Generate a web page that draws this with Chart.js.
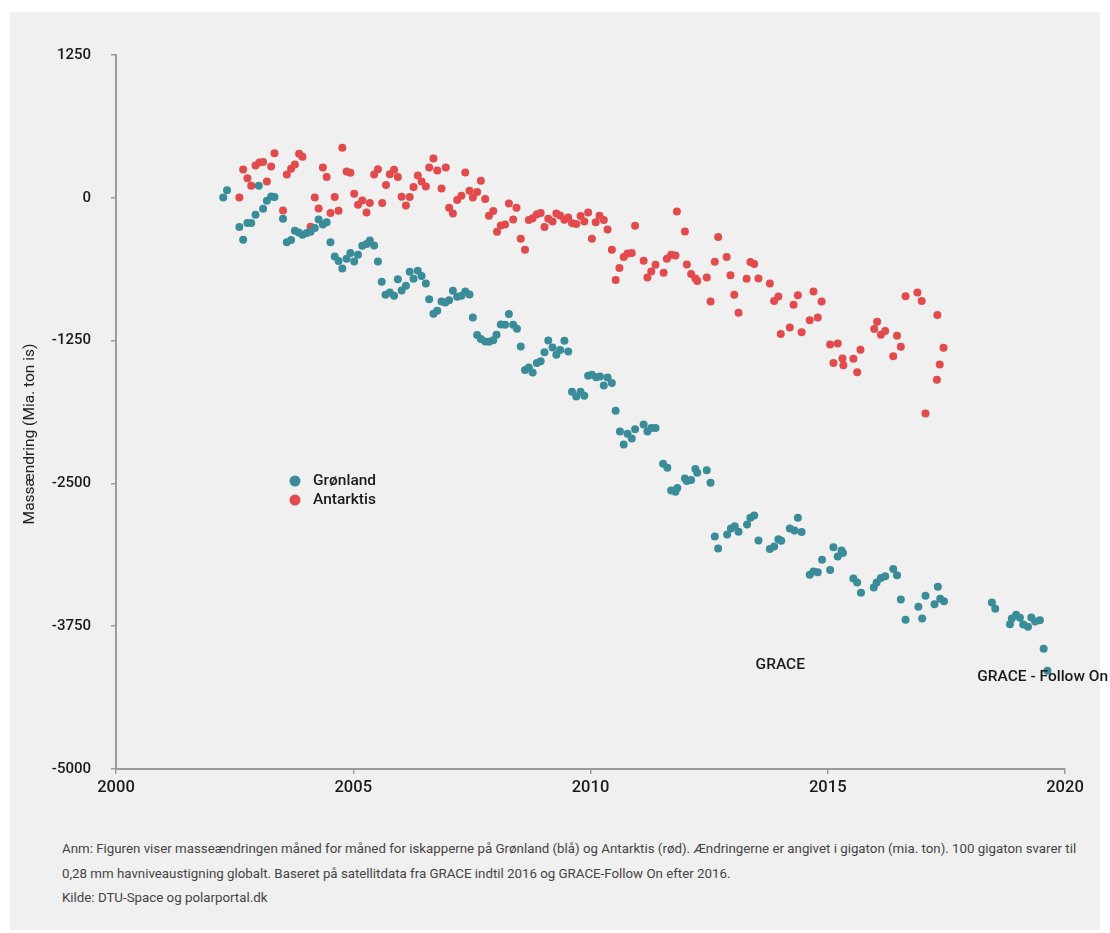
<!DOCTYPE html>
<html>
<head>
<meta charset="utf-8">
<script src="https://cdn.jsdelivr.net/npm/chart.js@4.4.1/dist/chart.umd.min.js"></script>
<style>
  body { margin: 0; background: #fff; font-family: Roboto, "Noto Sans", sans-serif; }
  #wrap { position: absolute; left: 10px; top: 12px; width: 1090px; height: 918px; background: #f0f0f0; }
  #chart { position: absolute; left: 0; top: 0; }
  #note { position: absolute; left: 52px; top: 825px; width: 1040px; font-size: 13.3px; line-height: 24.5px; color: #444; white-space: nowrap; }
</style>
</head>
<body>
<div id="wrap">
  <canvas id="chart" width="1100" height="800"></canvas>
  <div id="note">
    Anm: Figuren viser masseændringen måned for måned for iskapperne på Grønland (blå) og Antarktis (rød). Ændringerne er angivet i gigaton (mia. ton). 100 gigaton svarer til<br>
    0,28 mm havniveaustigning globalt. Baseret på satellitdata fra GRACE indtil 2016 og GRACE-Follow On efter 2016.<br>
    Kilde: DTU-Space og polarportal.dk
  </div>
</div>
<script>
// data, year / mass change (Gt)
const groenlandYears = [
  2002.26, 2002.34, 2002.60, 2002.68, 2002.77, 2002.85, 2002.94, 2003.01, 2003.10, 2003.18,
  2003.27, 2003.34, 2003.52, 2003.60, 2003.69, 2003.77, 2003.85, 2003.93, 2004.02, 2004.10,
  2004.19, 2004.27, 2004.36, 2004.44, 2004.52, 2004.61, 2004.69, 2004.77, 2004.86, 2004.94,
  2005.02, 2005.10, 2005.19, 2005.28, 2005.35, 2005.44, 2005.52, 2005.60, 2005.68, 2005.77,
  2005.86, 2005.94, 2006.02, 2006.11, 2006.19, 2006.27, 2006.36, 2006.44, 2006.53, 2006.60,
  2006.69, 2006.77, 2006.86, 2006.94, 2007.02, 2007.10, 2007.19, 2007.28, 2007.36, 2007.45,
  2007.52, 2007.61, 2007.69, 2007.78, 2007.86, 2007.95, 2008.02, 2008.11, 2008.20, 2008.28,
  2008.37, 2008.45, 2008.53, 2008.62, 2008.70, 2008.78, 2008.87, 2008.95, 2009.03, 2009.11,
  2009.20, 2009.28, 2009.36, 2009.45, 2009.53, 2009.61, 2009.70, 2009.79, 2009.87, 2009.95,
  2010.03, 2010.12, 2010.20, 2010.28, 2010.36, 2010.45, 2010.53, 2010.62, 2010.70, 2010.78,
  2010.87, 2010.94, 2011.12, 2011.20, 2011.28, 2011.37, 2011.53, 2011.62, 2011.70, 2011.79,
  2011.83, 2011.99, 2012.03, 2012.12, 2012.21, 2012.25, 2012.45, 2012.53, 2012.62, 2012.69,
  2012.88, 2012.96, 2013.04, 2013.12, 2013.30, 2013.37, 2013.45, 2013.54, 2013.78, 2013.87,
  2013.96, 2014.02, 2014.20, 2014.30, 2014.37, 2014.45, 2014.62, 2014.70, 2014.79, 2014.88,
  2015.05, 2015.12, 2015.21, 2015.29, 2015.32, 2015.54, 2015.62, 2015.70, 2015.97, 2016.03,
  2016.12, 2016.21, 2016.38, 2016.46, 2016.54, 2016.64, 2016.91, 2016.99, 2017.06, 2017.25,
  2017.32, 2017.37, 2017.45, 2018.46, 2018.53, 2018.84, 2018.88, 2018.97, 2019.05, 2019.12,
  2019.22, 2019.29, 2019.37, 2019.47, 2019.55, 2019.63
];
const groenlandValues = [
  3, 67, -256, -368, -221, -221, -149, 105, -96, -26,
  11, 6, -184, -388, -370, -289, -304, -324, -309, -298,
  -265, -190, -234, -213, -388, -514, -554, -619, -534, -484,
  -558, -499, -420, -405, -374, -418, -558, -735, -849, -829,
  -858, -712, -811, -770, -648, -709, -639, -685, -750, -887,
  -1015, -989, -908, -917, -896, -814, -867, -858, -820, -847,
  -1048, -1202, -1237, -1258, -1261, -1246, -1199, -1109, -1112, -1018,
  -1112, -1147, -1302, -1508, -1486, -1529, -1447, -1430, -1351, -1249,
  -1310, -1374, -1333, -1252, -1345, -1698, -1739, -1698, -1733, -1558,
  -1549, -1570, -1564, -1643, -1573, -1622, -1865, -2046, -2160, -2066,
  -2107, -2025, -1985, -2046, -2016, -2016, -2329, -2364, -2562, -2574,
  -2541, -2457, -2480, -2471, -2375, -2407, -2384, -2495, -2965, -3070,
  -2947, -2895, -2874, -2924, -2860, -2801, -2781, -3000, -3075, -3052,
  -2988, -3003, -2895, -2912, -2801, -2926, -3300, -3271, -3277, -3169,
  -3259, -3058, -3140, -3088, -3110, -3333, -3368, -3458, -3411, -3368,
  -3329, -3312, -3250, -3303, -3516, -3694, -3580, -3683, -3484, -3557,
  -3405, -3510, -3531, -3543, -3598, -3732, -3683, -3650, -3677, -3735,
  -3755, -3674, -3709, -3697, -3948, -4141
];
const antarktisYears = [
  2002.60, 2002.68, 2002.77, 2002.85, 2002.94, 2003.02, 2003.10, 2003.18, 2003.27, 2003.34,
  2003.52, 2003.60, 2003.69, 2003.77, 2003.86, 2003.93, 2004.10, 2004.19, 2004.27, 2004.36,
  2004.44, 2004.52, 2004.61, 2004.69, 2004.77, 2004.86, 2004.94, 2005.02, 2005.10, 2005.19,
  2005.28, 2005.35, 2005.44, 2005.52, 2005.61, 2005.69, 2005.77, 2005.86, 2005.94, 2006.02,
  2006.11, 2006.19, 2006.27, 2006.36, 2006.44, 2006.53, 2006.60, 2006.69, 2006.77, 2006.86,
  2006.95, 2007.02, 2007.10, 2007.19, 2007.28, 2007.36, 2007.45, 2007.52, 2007.61, 2007.69,
  2007.78, 2007.86, 2007.95, 2008.03, 2008.11, 2008.20, 2008.28, 2008.37, 2008.44, 2008.53,
  2008.62, 2008.70, 2008.78, 2008.87, 2008.95, 2009.03, 2009.11, 2009.20, 2009.28, 2009.36,
  2009.45, 2009.53, 2009.61, 2009.70, 2009.79, 2009.87, 2009.95, 2010.03, 2010.11, 2010.19,
  2010.28, 2010.36, 2010.45, 2010.53, 2010.61, 2010.70, 2010.78, 2010.87, 2010.94, 2011.12,
  2011.20, 2011.28, 2011.37, 2011.54, 2011.61, 2011.70, 2011.79, 2011.82, 2011.99, 2012.03,
  2012.12, 2012.21, 2012.25, 2012.45, 2012.53, 2012.62, 2012.69, 2012.87, 2012.95, 2013.03,
  2013.12, 2013.29, 2013.37, 2013.45, 2013.54, 2013.78, 2013.87, 2013.96, 2014.01, 2014.20,
  2014.28, 2014.37, 2014.45, 2014.62, 2014.70, 2014.79, 2014.87, 2015.05, 2015.12, 2015.21,
  2015.31, 2015.33, 2015.54, 2015.62, 2015.69, 2015.98, 2016.04, 2016.12, 2016.21, 2016.38,
  2016.46, 2016.54, 2016.64, 2016.89, 2016.98, 2017.06, 2017.31, 2017.30, 2017.36, 2017.44
];
const antarktisValues = [
  3, 248, 172, 105, 283, 309, 313, 143, 274, 391,
  -111, 204, 254, 292, 385, 359, -254, 3, -94, 265,
  181, -134, 6, -114, 438, 230, 219, 35, -61, -24,
  -129, -46, 204, 251, -46, 111, 207, 245, 181, 9,
  -67, 6, 94, 195, 143, 99, 265, 344, 239, 81,
  265, -88, -137, -20, 18, 221, 61, 3, 50, 149,
  -11, -158, -116, -298, -242, -234, -50, -190, -88, -359,
  -455, -195, -178, -143, -134, -256, -184, -207, -137, -155,
  -193, -172, -221, -230, -160, -207, -129, -359, -213, -158,
  -195, -278, -455, -720, -615, -519, -488, -484, -245, -552,
  -698, -645, -587, -657, -534, -499, -505, -120, -295, -584,
  -668, -706, -729, -698, -908, -560, -344, -519, -677, -849,
  -1007, -709, -563, -580, -706, -750, -904, -864, -1193, -1135,
  -937, -852, -1176, -1071, -820, -1048, -908, -1284, -1447, -1275,
  -1407, -1465, -1409, -1526, -1331, -1149, -1085, -1199, -1167, -1386,
  -1208, -1304, -861, -829, -904, -1888, -1027, -1593, -1459, -1313
];
const xTicks = [2000, 2005, 2010, 2015, 2020];
const yTicks = [-5000, -3750, -2500, -1250, 0, 1250];
const seriesNames = ['Grønland', 'Antarktis'];
const seriesColors = ['#3a8c99', '#e24a4c'];

const toPoints = (xs, ys) => xs.map((x, i) => ({ x: x, y: ys[i] }));

const axisGrey = '#9b9b9b';

// legend, y title and GRACE notes
const extras = {
  id: 'extras',
  afterDatasetsDraw(chart) {
    const ctx = chart.ctx;
    const xs = chart.scales.x, ys = chart.scales.y;
    ctx.save();
    // y axis title
    ctx.save();
    ctx.translate(20, 422);
    ctx.rotate(-Math.PI / 2);
    ctx.font = '400 15.5px Roboto, sans-serif';
    ctx.fillStyle = '#222';
    ctx.textAlign = 'center';
    ctx.textBaseline = 'middle';
    ctx.fillText('Massændring (Mia. ton is)', 0, 0);
    ctx.restore();
    // legend
    ctx.font = '500 15.5px Roboto, sans-serif';
    ctx.textBaseline = 'middle';
    ctx.textAlign = 'left';
    seriesNames.forEach((name, i) => {
      const y = 469 + i * 19;
      ctx.fillStyle = seriesColors[i];
      ctx.beginPath();
      ctx.arc(285, y, 5.5, 0, Math.PI * 2);
      ctx.fill();
      ctx.fillStyle = '#1a1a1a';
      ctx.fillText(name, 303, y);
    });
    // mission notes
    ctx.font = '500 15.5px Roboto, sans-serif';
    ctx.fillStyle = '#1a1a1a';
    ctx.textAlign = 'center';
    ctx.fillText('GRACE', xs.getPixelForValue(2014), ys.getPixelForValue(-4089));
    ctx.textAlign = 'left';
    ctx.fillText('GRACE - Follow On', xs.getPixelForValue(2018.15), ys.getPixelForValue(-4194));
    ctx.restore();
  }
};

new Chart(document.getElementById('chart'), {
  type: 'scatter',
  data: {
    datasets: [
      {
        label: seriesNames[0],
        data: toPoints(groenlandYears, groenlandValues),
        backgroundColor: seriesColors[0],
        borderWidth: 0,
        pointRadius: 4,
      },
      {
        label: seriesNames[1],
        data: toPoints(antarktisYears, antarktisValues),
        backgroundColor: seriesColors[1],
        borderWidth: 0,
        pointRadius: 4,
      }
    ]
  },
  options: {
    responsive: false,
    animation: false,
    layout: { padding: { top: 43, right: 45, left: 0, bottom: 0 } },
    plugins: {
      legend: { display: false },
      tooltip: { enabled: false },
    },
    scales: {
      x: {
        type: 'linear',
        min: 2000,
        max: 2020,
        afterBuildTicks: (s) => { s.ticks = xTicks.map(v => ({ value: v })); },
        afterFit: (s) => { s.height = 43; },
        ticks: {
          callback: (v) => String(v),
          color: '#1a1a1a',
          font: { family: 'Roboto, sans-serif', size: 16.5, weight: '500' },
          padding: 4,
          maxRotation: 0,
        },
        grid: { drawOnChartArea: false, drawTicks: true, tickLength: 5, color: axisGrey, lineWidth: 1.5 },
        border: { display: true, color: axisGrey, width: 2 },
      },
      y: {
        type: 'linear',
        min: -5000,
        max: 1250,
        afterBuildTicks: (s) => { s.ticks = yTicks.map(v => ({ value: v })); },
        afterFit: (s) => { s.width = 106; },
        ticks: {
          callback: (v) => String(v),
          color: '#1a1a1a',
          font: { family: 'Roboto, sans-serif', size: 15, weight: '500' },
          padding: 20,
        },
        grid: { drawOnChartArea: false, drawTicks: true, tickLength: 5, color: axisGrey, lineWidth: 1.5 },
        border: { display: true, color: axisGrey, width: 2 },
      }
    }
  },
  plugins: [extras]
});
</script>
</body>
</html>
